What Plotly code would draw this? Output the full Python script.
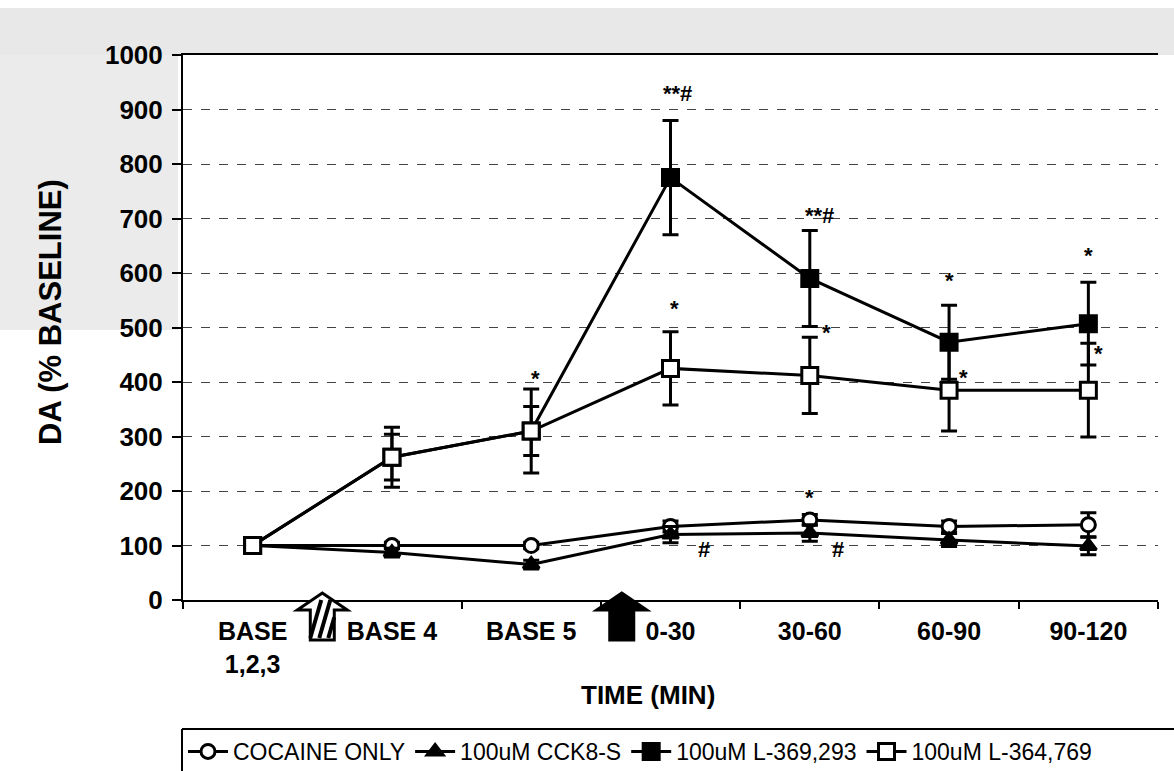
import plotly.graph_objects as go

# ---------------- data ----------------
categories = ["BASE<br>1,2,3", "BASE 4", "BASE 5", "0-30", "30-60", "60-90", "90-120"]

cocaine = [100, 100, 100, 135, 147, 135, 138]
cocaine_err = [0, 6, 6, 10, 10, 10, 22]

cck8s = [100, 87, 65, 120, 123, 110, 99]
cck8s_err = [0, 8, 8, 15, 15, 12, 16]

l369 = [100, 262, 310, 775, 590, 473, 507]
l369_err = [0, 42, 45, 105, 88, 68, 76]

l364 = [100, 262, 310, 425, 412, 385, 385]
l364_err = [0, 55, 77, 67, 70, 75, 86]

sig_labels = ["*", "**#", "*", "#", "**#", "*", "*", "#", "*", "*", "*", "*"]
sig_x = [2.03, 3.05, 3.03, 3.24, 4.07, 4.12, 4.0, 4.2, 5.0, 5.1, 6.0, 6.07]
sig_y = [407, 929, 535, 92, 705, 491, 189, 92, 586, 408, 632, 452]

arrow_pos = [0.5, 2.65]   # category positions of the treatment arrows

# ---------------- layout geometry ----------------
W, H = 1174, 771
L, R, T, B = 183, 16, 55, 171
PW, PH = W - L - R, H - T - B


def px(xp):
    return (xp - L) / PW


def py(yp):
    return (H - B - yp) / PH


def cat_px(c):
    return L + (c + 0.5) / 7 * PW


FONT = "Liberation Sans, Arial, sans-serif"

fig = go.Figure()


def add_series(name, y, err, symbol, fill, size):
    fig.add_trace(go.Scatter(
        x=categories, y=y, name=name, mode="lines+markers",
        line=dict(color="black", width=3),
        marker=dict(symbol=symbol, size=size, color=fill,
                    line=dict(color="black", width=3)),
        error_y=dict(type="data", array=err, visible=True, color="black",
                     thickness=3, width=8),
        cliponaxis=False,
    ))


add_series("COCAINE ONLY", cocaine, cocaine_err, "circle", "white", 14)
add_series("100uM CCK8-S", cck8s, cck8s_err, "triangle-up", "black", 14)
add_series("100uM L-369,293", l369, l369_err, "square", "black", 16)
add_series("100uM L-364,769", l364, l364_err, "square", "white", 16)

annotations = []
for lab, xx, yy in zip(sig_labels, sig_x, sig_y):
    annotations.append(dict(x=xx, y=yy, xref="x", yref="y", text=lab,
                            showarrow=False, xanchor="center", yanchor="middle",
                            font=dict(family=FONT, size=22, color="black", weight="bold")))

annotations.append(dict(x=px(50), y=py(312), xref="paper", yref="paper",
                        xanchor="center", yanchor="middle",
                        text="DA (% BASELINE)", textangle=-90, showarrow=False,
                        font=dict(family=FONT, size=31, color="black", weight="bold")))
annotations.append(dict(x=px(648), y=py(695), xref="paper", yref="paper",
                        xanchor="center", yanchor="middle",
                        text="TIME (MIN)", showarrow=False,
                        font=dict(family=FONT, size=26, color="black", weight="bold")))

shapes = []
# faint scan-tone bands
shapes.append(dict(type="rect", xref="paper", yref="paper", layer="below",
                   x0=px(0), x1=px(W), y0=py(55), y1=py(8),
                   fillcolor="rgba(0,0,0,0.09)", line=dict(width=0)))
shapes.append(dict(type="rect", xref="paper", yref="paper", layer="below",
                   x0=px(0), x1=px(178), y0=py(330), y1=py(55),
                   fillcolor="rgba(0,0,0,0.08)", line=dict(width=0)))

# treatment arrows below axis
for i, c in enumerate(arrow_pos):
    cx = cat_px(c)
    top, hb, bot, hw, bw = 593, 610, 640, 25, 12
    pts = [(cx, top), (cx + hw, hb), (cx + bw, hb), (cx + bw, bot),
           (cx - bw, bot), (cx - bw, hb), (cx - hw, hb)]
    path = "M " + " L ".join(f"{px(a):.5f},{py(b):.5f}" for a, b in pts) + " Z"
    shapes.append(dict(type="path", path=path, xref="paper", yref="paper",
                       fillcolor="white" if i == 0 else "black",
                       line=dict(color="black", width=3)))
    if i == 0:
        for k in (-12, -3, 6):
            x0, y0 = cx + k, bot - 2
            x1, y1 = cx + k + 11, hb - 10
            if x1 > cx + bw:
                f = (cx + bw - x0) / (x1 - x0)
                x1 = cx + bw
                y1 = y0 + (y1 - y0) * f
            shapes.append(dict(type="line", xref="paper", yref="paper",
                               x0=px(x0), y0=py(y0), x1=px(x1), y1=py(y1),
                               line=dict(color="black", width=4)))

# legend frame
shapes.append(dict(type="line", xref="paper", yref="paper",
                   x0=px(182), x1=px(W), y0=py(729), y1=py(729),
                   line=dict(color="black", width=2)))
shapes.append(dict(type="line", xref="paper", yref="paper",
                   x0=px(182), x1=px(182), y0=py(729), y1=py(H),
                   line=dict(color="black", width=2)))

fig.update_layout(
    width=W, height=H,
    margin=dict(l=L, r=R, t=T, b=B, pad=0, autoexpand=False),
    paper_bgcolor="white", plot_bgcolor="white",
    showlegend=True,
    legend=dict(orientation="h", x=px(183), y=py(730), xanchor="left", yanchor="top",
                font=dict(family=FONT, size=23, color="black"),
                itemwidth=40, bgcolor="rgba(0,0,0,0)", tracegroupgap=0),
    annotations=annotations,
    shapes=shapes,
    xaxis=dict(type="category", range=[-0.5, 6.5], showgrid=False, automargin=False,
               showline=True, linecolor="black", linewidth=2, mirror=True,
               ticks="outside", tickson="boundaries", ticklen=7, tickwidth=2,
               tickcolor="black", ticklabelstandoff=8,
               tickfont=dict(family=FONT, size=25, color="black", weight="bold"),
               zeroline=False),
    yaxis=dict(range=[0, 1000], dtick=100, showgrid=True, automargin=False,
               gridcolor="#444444", gridwidth=1, griddash="dash",
               showline=True, linecolor="black", linewidth=2,
               ticks="outside", ticklen=9, tickwidth=2, tickcolor="black",
               ticklabelstandoff=4,
               tickfont=dict(family=FONT, size=26, color="black", weight="bold"),
               zeroline=False),
)

fig.write_html("out.html")
